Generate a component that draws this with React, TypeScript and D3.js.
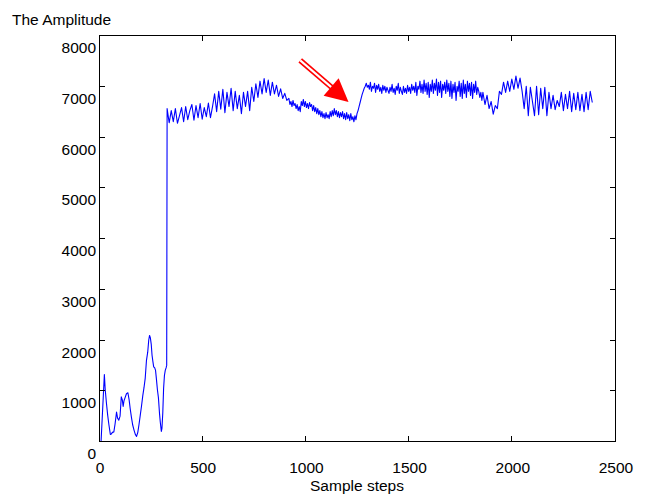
import React from "react";
import * as d3 from "d3";

// ---------- data ----------
const sampleTicks = [0, 500, 1000, 1500, 2000, 2500];
const amplitudeTicks = [0, 1000, 2000, 3000, 4000, 5000, 6000, 7000, 8000];

// early, low-amplitude part (sample index, amplitude)
const lowSamples = [
  10, 26, 30, 36, 42, 48, 55, 60, 65, 72, 78, 85, 90, 96, 102, 108, 113, 117, 121, 126,
  133, 140, 146, 151, 157, 163, 170, 176, 182, 188, 194, 200, 206, 212, 218, 224, 230, 236, 241, 245,
  249, 253, 257, 261, 265, 270, 274, 278, 283, 288, 293, 297, 302, 305, 309, 313, 317, 321, 325, 328,
];
const lowAmplitude = [
  0, 1320, 1030, 760, 520, 330, 140, 150, 180, 190, 350, 580, 460, 420, 500, 880, 820, 690, 800, 860,
  940, 960, 820, 650, 480, 330, 220, 140, 100, 180, 340, 520, 700, 900, 1060, 1250, 1600, 1760, 2000, 2090,
  2040, 1920, 1700, 1580, 1470, 1450, 1400, 1240, 1020, 860, 560, 380, 200, 260, 560, 1050, 1300, 1400, 1450, 1500,
];

// plateau readings: samples 330-910, every 10 samples
const riseAmplitude = [
  6560, 6280, 6520, 6300, 6560, 6270, 6420, 6580, 6300, 6600, 6340, 6520, 6640, 6330, 6620, 6380, 6660, 6350, 6580, 6400, 6670, 6380, 6600,
  6850, 6500, 6900, 6550, 6940, 6480, 6880, 6600, 6960, 6520, 6900, 6560, 6820, 6460, 6880, 6600, 6900, 6520, 6980, 6700,
  7050, 6780, 7100, 6850, 7150, 6880, 7120, 6820, 7080, 6850, 7020, 6800, 6950, 6760, 6860, 6720,
];
// samples 920-1300, every 5 samples
const dipAmplitude = [
  6760, 6640, 6700, 6600, 6720, 6620, 6660, 6560, 6640, 6520,
  6600, 6500, 6700, 6620, 6740, 6600, 6700, 6580, 6660, 6560,
  6680, 6600, 6640, 6520, 6620, 6500, 6580, 6460, 6560, 6440,
  6520, 6400, 6500, 6380, 6460, 6360, 6480, 6380, 6440, 6360,
  6500, 6400, 6520, 6420, 6560, 6440, 6520, 6400, 6500, 6380,
  6480, 6400, 6500, 6360, 6460, 6340, 6480, 6360, 6440, 6320,
  6460, 6340, 6400, 6300, 6420, 6340, 6460, 6520, 6600, 6680,
  6760, 6840, 6900, 6960, 7000, 7060, 6980,
];
// samples 1305-1855, every 5 samples
const highAmplitude = [
  7020, 6940, 7080, 6900, 7000, 6960, 7060, 6880, 7020, 6940, 7040, 6900, 6980, 6860, 7020, 6920, 7000, 6880, 6980, 6920,
  6860, 6980, 6900, 7040, 6880, 6960, 6840, 7000, 6920, 7060, 6860, 6980, 6900, 6840, 7000, 6880, 6960, 6860, 7020, 6900,
  6980, 6860, 7040, 6920, 7000, 6880, 7080, 6820, 7000, 6940, 7100, 6880, 7040, 6860, 7120, 6900, 7060, 6840, 7080, 6780,
  7040, 6900, 7120, 6860, 7060, 6920, 7140, 6820, 7080, 6880, 7100, 6780, 7040, 6920, 7080, 6860, 7120, 6900, 7060, 6800,
  7100, 6760, 7040, 6880, 7080, 6720, 7000, 6900, 7100, 6800, 7060, 6760, 7120, 6860, 7040, 6780, 7100, 6900, 7060, 6820,
  7080, 6760, 7040, 6880, 7100, 6840, 6980, 6900, 6780, 6880, 6720,
];
// samples 1860-2390, every 10 samples
const tailAmplitude = [
  6880, 6640, 6820, 6560, 6700, 6450, 6620, 6560, 6900, 6840, 7080,
  6880, 7100, 6900, 7140, 6940, 7200, 6960, 7160, 6900,
  6560, 7000, 6420, 6980, 6700, 6420, 7000, 6440, 6960, 6560, 6980, 6420, 6880, 6560,
  6820, 6540, 6720, 6600, 6880, 6520, 6840, 6560, 6900, 6500, 6860, 6540, 6880, 6520, 6840, 6500, 6880, 6540, 6900, 6680,
];
const segmentStarts = [330, 920, 1305, 1860];
const segmentSteps = [10, 5, 5, 10];

// annotation arrow (sample, amplitude)
const arrowTail = [975, 7510];
const arrowTip = [1209, 6690];

export default function App() {
  const W = 648;
  const H = 495;
  const x = d3.scaleLinear().domain([0, 2500]).range([99, 615]);
  const y = d3.scaleLinear().domain([0, 8000]).range([441.5, 35.5]);

  const points: [number, number][] = [];
  lowSamples.forEach((s, i) => points.push([s, lowAmplitude[i]]));
  [riseAmplitude, dipAmplitude, highAmplitude, tailAmplitude].forEach((seg, k) =>
    seg.forEach((v, i) => points.push([segmentStarts[k] + i * segmentSteps[k], v]))
  );

  const line = d3
    .line<[number, number]>()
    .x((d) => x(d[0]))
    .y((d) => y(d[1]));

  const x0 = x(0);
  const x1 = x(2500);
  const y0 = y(0);
  const y1 = y(8000);
  const tick = 5.5;
  const font = "'Liberation Sans', Arial, Helvetica, sans-serif";
  const fs = 15.5;

  // arrow geometry
  const tx = x(arrowTail[0]);
  const ty = y(arrowTail[1]);
  const px = x(arrowTip[0]);
  const py = y(arrowTip[1]);
  const len = Math.hypot(px - tx, py - ty);
  const ux = (px - tx) / len;
  const uy = (py - ty) / len;
  const headLen = 23;
  const headHalf = 11.5;
  const bx = px - ux * headLen;
  const by = py - uy * headLen;
  const nx = -uy;
  const ny = ux;

  return (
    <div style={{ position: "absolute", left: 0, top: 0 }}>
      <svg width={W} height={H} style={{ display: "block", background: "#fff" }}>
        <rect x={0} y={0} width={W} height={H} fill="#fff" />
        {/* data line */}
        <path d={line(points) || ""} fill="none" stroke="#0000ff" strokeWidth={1.1} strokeLinejoin="round" />

        {/* axes box */}
        <g shapeRendering="crispEdges" stroke="#000" strokeWidth={1}>
          <rect x={x0} y={y1} width={x1 - x0} height={y0 - y1} fill="none" />
          {sampleTicks.map((t) => (
            <g key={"xt" + t}>
              <line x1={x(t)} x2={x(t)} y1={y0} y2={y0 - tick} />
              <line x1={x(t)} x2={x(t)} y1={y1} y2={y1 + tick} />
            </g>
          ))}
          {amplitudeTicks.map((t) => (
            <g key={"yt" + t}>
              <line x1={x0} x2={x0 + tick} y1={y(t)} y2={y(t)} />
              <line x1={x1} x2={x1 - tick} y1={y(t)} y2={y(t)} />
            </g>
          ))}
        </g>

        {/* tick labels */}
        <g fontFamily={font} fontSize={fs} fill="#000">
          {sampleTicks.map((t) => (
            <text key={"xl" + t} x={x(t) + 1} y={472.5} textAnchor="middle">
              {t}
            </text>
          ))}
          {amplitudeTicks.map((t) => (
            <text key={"yl" + t} x={96} y={y(t) + 17.5} textAnchor="end">
              {t}
            </text>
          ))}
          <text x={(x0 + x1) / 2} y={491} textAnchor="middle">
            Sample steps
          </text>
          <text x={12} y={25} textAnchor="start">
            The Amplitude
          </text>
        </g>

        {/* red arrow annotation */}
        <line x1={tx} y1={ty} x2={bx + ux * 2} y2={by + uy * 2} stroke="#ff0000" strokeWidth={5.5} />
        <line x1={tx} y1={ty} x2={bx + ux * 1} y2={by + uy * 1} stroke="#ffffff" strokeWidth={2} />
        <polygon
          points={`${px},${py} ${bx + nx * headHalf},${by + ny * headHalf} ${bx - nx * headHalf},${by - ny * headHalf}`}
          fill="#ff0000"
        />
      </svg>
    </div>
  );
}
